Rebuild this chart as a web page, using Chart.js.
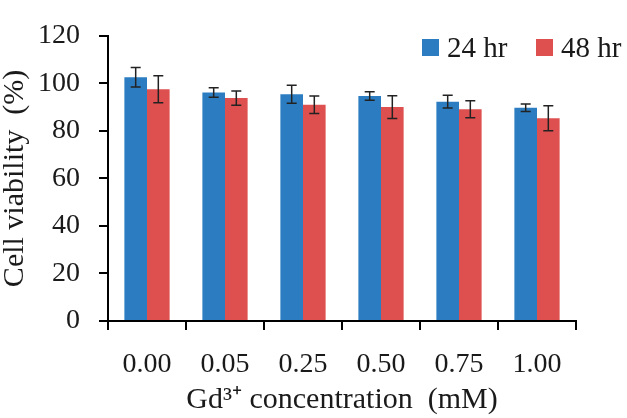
<!DOCTYPE html>
<html>
<head>
<meta charset="utf-8">
<script src="https://cdn.jsdelivr.net/npm/chart.js@4.4.0/dist/chart.umd.min.js"></script>
<style>
  body { margin: 0; background: #fff; }
  #wrap { position: relative; width: 627px; height: 418px; }
  .leg { position: absolute; top: 31px; font: 29px "Liberation Serif", serif; color: #1a1a1a; display: flex; align-items: center; }
  .leg .sw { display: inline-block; width: 17px; height: 17px; margin-right: 8px; }
</style>
</head>
<body>
<div id="wrap">
  <canvas id="myChart" width="627" height="418"></canvas>
  <div class="leg" style="left:422px"><span class="sw" style="background:#2b7cc1"></span>24 hr</div>
  <div class="leg" style="left:536px"><span class="sw" style="background:#de4f4f"></span>48 hr</div>
</div>
<script>
var concentrations = ['0.00', '0.05', '0.25', '0.50', '0.75', '1.00'];
var viability24 = [102.6, 96.1, 95.4, 94.7, 92.3, 89.7];
var error24 = [4.1, 2.0, 3.8, 1.8, 2.7, 1.6];
var viability48 = [97.5, 93.8, 91.0, 90.0, 89.1, 85.3];
var error48 = [5.7, 3.0, 3.7, 4.8, 3.6, 5.3];

var tickFont = { family: '"Liberation Serif", serif', size: 28 };
var titleFont = { family: '"Liberation Serif", serif', size: 30, lineHeight: 1 };

// error bars drawn from the y scale
var errorBars = {
    id: 'errorBars',
    afterDatasetsDraw: function (chart) {
        var ctx = chart.ctx;
        var y = chart.scales.y;
        ctx.save();
        ctx.strokeStyle = '#222';
        ctx.lineWidth = 1.5;
        chart.data.datasets.forEach(function (ds, di) {
            var meta = chart.getDatasetMeta(di);
            meta.data.forEach(function (bar, i) {
                var v = ds.data[i], e = ds.errors[i];
                var top = y.getPixelForValue(v + e);
                var bot = y.getPixelForValue(v - e);
                ctx.beginPath();
                ctx.moveTo(bar.x, top); ctx.lineTo(bar.x, bot);
                ctx.moveTo(bar.x - 5, top); ctx.lineTo(bar.x + 5, top);
                ctx.moveTo(bar.x - 5, bot); ctx.lineTo(bar.x + 5, bot);
                ctx.stroke();
            });
        });
        ctx.restore();
    }
};

var ctx = document.getElementById('myChart').getContext('2d');
var myChart = new Chart(ctx, {
    type: 'bar',
    data: {
        labels: concentrations,
        datasets: [{
            label: '24 hr',
            data: viability24,
            errors: error24,
            backgroundColor: '#2b7cc1'
        }, {
            label: '48 hr',
            data: viability48,
            errors: error48,
            backgroundColor: '#de4f4f'
        }]
    },
    plugins: [errorBars],
    options: {
        responsive: false,
        animation: false,
        layout: { padding: { top: 13, right: 51, left: 0, bottom: 0 } },
        categoryPercentage: 0.58,
        barPercentage: 1,
        plugins: {
            legend: { display: false },
            tooltip: { enabled: false }
        },
        scales: {
            x: {
                grid: { drawOnChartArea: false, offset: true, tickLength: 9, color: '#000', lineWidth: 2 },
                border: { color: '#000', width: 2 },
                ticks: { font: tickFont, color: '#1a1a1a', padding: 18 },
                title: { display: true, text: 'Gd\u00b3\u207a concentration  (mM)', font: titleFont, color: '#1a1a1a', padding: { top: 0, bottom: 3 } },
                afterFit: function (s) { s.height = 97; }
            },
            y: {
                min: 0,
                max: 120,
                grid: { drawOnChartArea: false, tickLength: 9, color: '#000', lineWidth: 2 },
                border: { color: '#000', width: 2 },
                ticks: { stepSize: 20, font: tickFont, color: '#1a1a1a', padding: 19 },
                title: { display: true, text: 'Cell viability  (%)', font: titleFont, color: '#1a1a1a', padding: 0 },
                afterFit: function (s) { s.width = 108; }
            }
        }
    }
});
</script>
</body>
</html>
